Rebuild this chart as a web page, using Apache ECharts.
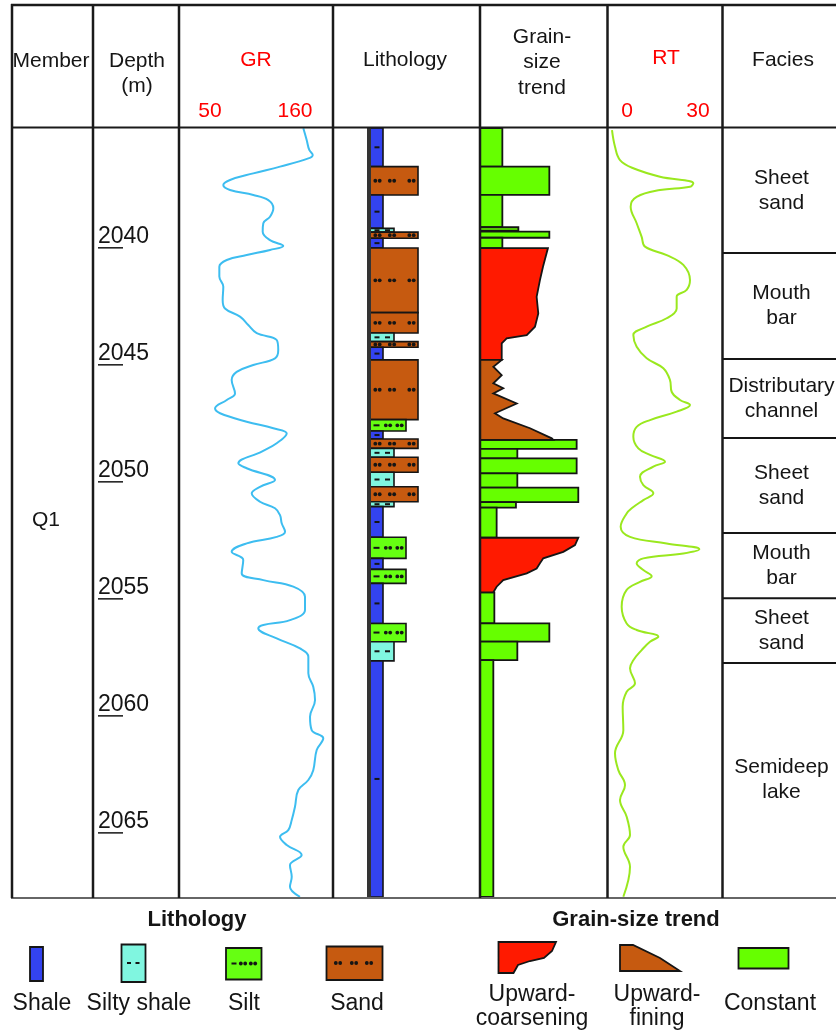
<!DOCTYPE html>
<html><head><meta charset="utf-8">
<script src="https://cdn.jsdelivr.net/npm/echarts@6/dist/echarts.min.js"></script>
<style>html,body{margin:0;padding:0;background:#fff}#c{width:836px;height:1030px}</style>
</head><body><div id="c"></div>
<script>
// ---------------- DATA ----------------
const depthRange = [2035.35, 2068.21];
const depthTicks = [2040, 2045, 2050, 2055, 2060, 2065];
const grScale = [50, 160];
const rtScale = [0, 30];

// GR curve [GR, depth]
const grCurve = [
[150.8,2035.36],[154.0,2035.86],[156.5,2036.29],[159.8,2036.50],[155.6,2036.65],[128.5,2037.00],
[102.9,2037.29],[80.6,2037.57],[74.2,2037.79],[80.6,2038.00],[102.9,2038.21],[117.3,2038.43],
[122.1,2038.78],[118.9,2039.14],[112.5,2039.42],[111.9,2039.78],[118.9,2040.14],[131.6,2040.39],
[118.9,2040.56],[96.6,2040.78],[77.5,2040.99],[70.4,2041.28],[70.4,2041.70],[74.2,2042.13],
[73.6,2042.70],[75.8,2043.06],[90.2,2043.41],[98.1,2043.77],[106.2,2044.12],[125.3,2044.41],
[126.8,2044.84],[123.7,2045.19],[102.9,2045.48],[87.0,2045.77],[82.2,2046.12],[85.4,2046.69],
[77.5,2046.97],[66.3,2047.33],[71.1,2047.54],[96.6,2047.90],[122.1,2048.18],[134.9,2048.40],
[125.3,2048.82],[111.0,2049.18],[88.6,2049.68],[96.6,2049.89],[123.7,2050.39],[109.3,2050.68],
[101.4,2050.96],[109.3,2051.32],[123.7,2051.60],[128.5,2051.89],[130.1,2052.24],[133.3,2052.60],
[125.3,2052.82],[96.6,2053.10],[82.2,2053.46],[93.3,2053.81],[91.8,2054.38],[112.5,2054.67],
[141.2,2054.95],[152.4,2055.38],[152.4,2055.95],[138.0,2056.38],[112.5,2056.59],[107.7,2056.73],
[125.3,2057.16],[147.6,2057.59],[155.6,2057.94],[155.6,2058.65],[160.3,2059.23],[162.0,2059.79],
[157.2,2060.51],[158.8,2061.08],[169.9,2061.43],[163.6,2061.93],[160.3,2062.79],[155.6,2063.21],
[146.0,2063.64],[142.8,2064.35],[139.7,2064.92],[136.4,2065.35],[128.5,2065.64],[134.9,2065.99],
[149.2,2066.42],[138.0,2066.85],[139.7,2067.35],[138.0,2067.77],[147.6,2068.20]
];

// RT curve [RT, depth]
const rtCurve = [
[0.0,2035.44],[0.9,2036.15],[2.4,2036.72],[6.4,2037.07],[14.4,2037.43],[24.4,2037.71],
[23.4,2037.86],[14.4,2038.00],[7.4,2038.29],[5.6,2038.71],[7.4,2039.42],[8.9,2040.00],
[9.9,2040.42],[16.4,2040.78],[21.4,2041.20],[23.4,2041.85],[22.4,2042.27],[19.4,2042.56],
[19.4,2043.06],[16.4,2043.48],[10.4,2043.84],[6.4,2044.20],[7.4,2044.70],[10.4,2045.19],
[15.4,2045.62],[17.4,2046.12],[17.9,2046.62],[20.4,2046.97],[23.4,2047.19],[19.4,2047.47],
[11.4,2047.83],[7.4,2048.12],[6.4,2048.54],[7.9,2049.04],[11.4,2049.32],[15.9,2049.61],
[12.4,2049.82],[8.4,2050.25],[9.4,2050.61],[12.4,2050.96],[9.4,2051.25],[5.9,2051.60],
[4.4,2051.82],[2.6,2052.39],[5.4,2052.82],[16.4,2053.10],[26.2,2053.35],[21.4,2053.53],
[9.4,2053.74],[7.4,2053.95],[9.4,2054.24],[11.9,2054.50],[8.4,2054.74],[4.4,2055.09],
[2.9,2055.81],[4.4,2056.52],[7.4,2056.80],[13.9,2057.09],[11.4,2057.30],[8.9,2057.66],
[6.4,2058.09],[5.4,2058.44],[6.9,2059.08],[4.4,2059.44],[3.2,2060.08],[3.4,2061.08],
[0.9,2062.07],[1.9,2062.79],[3.9,2063.43],[2.4,2064.07],[4.4,2064.78],[5.4,2065.56],
[3.4,2066.06],[5.4,2066.92],[3.4,2068.20]
];

// Lithology [top, bottom, type]
const lithology = [
[2035.35,2037.00,'shale'],[2037.00,2038.21,'sand'],[2038.21,2039.64,'shale'],
[2039.64,2039.80,'siltyShale'],[2039.80,2040.06,'sand'],[2040.06,2040.48,'shale'],
[2040.48,2043.24,'sand'],[2043.24,2044.11,'sand'],[2044.11,2044.48,'siltyShale'],
[2044.48,2044.72,'sand'],[2044.72,2045.26,'shale'],[2045.26,2047.81,'sand'],
[2047.81,2048.30,'silt'],[2048.30,2048.64,'shale'],[2048.64,2049.04,'sand'],
[2049.04,2049.42,'siltyShale'],[2049.42,2050.06,'sand'],[2050.06,2050.68,'siltyShale'],
[2050.68,2051.32,'sand'],[2051.32,2051.53,'siltyShale'],[2051.53,2052.84,'shale'],
[2052.84,2053.74,'silt'],[2053.74,2054.21,'shale'],[2054.21,2054.81,'silt'],
[2054.81,2056.52,'shale'],[2056.52,2057.30,'silt'],[2057.30,2058.12,'siltyShale'],
[2058.12,2068.21,'shale']
];
const lithGrade = {shale:1.2, siltyShale:2.08, silt:3.04, sand:4.0};

// Grain-size trend: constant intervals [top, bottom, relative grain size]
const grainConstant = [
[2035.35,2037.00,1.76],[2037.00,2038.21,5.46],[2038.21,2039.59,1.76],[2039.59,2039.74,3.02],
[2039.78,2040.04,5.46],[2040.04,2040.48,1.76],
[2048.68,2049.06,7.61],[2049.06,2049.47,2.94],[2049.47,2050.11,7.61],[2050.11,2050.72,2.94],
[2050.72,2051.34,7.74],[2051.34,2051.57,2.83],[2051.57,2052.86,1.31],
[2055.19,2056.52,1.13],[2056.52,2057.30,5.46],[2057.30,2058.09,2.94],[2058.09,2068.21,1.05]
];
// Upward-coarsening / fining outlines [relative grain size, depth]
const coarsening1 = [
[5.35,2040.48],[4.96,2041.28],[4.72,2041.85],[4.46,2042.56],[4.59,2043.27],[4.33,2043.84],
[3.68,2044.20],[2.10,2044.34],[1.71,2044.55],[1.71,2045.26]
];
const fining1 = [
[1.71,2045.26],[1.05,2045.55],[1.71,2045.91],[1.05,2046.26],[1.83,2046.47],[1.05,2046.69],
[2.89,2047.12],[1.18,2047.54],[1.83,2047.76],[3.94,2048.18],[5.65,2048.61],[5.77,2048.68]
];
const coarsening2 = [
[7.74,2052.86],[7.48,2053.17],[6.56,2053.46],[4.98,2053.74],[4.72,2053.95],[4.46,2054.17],
[3.68,2054.38],[1.83,2054.67],[1.31,2054.95],[1.05,2055.19]
];

// Facies [top, bottom, name]
const facies = [
[2035.35,2040.69,'Sheet\nsand'],[2040.69,2045.22,'Mouth\nbar'],[2045.22,2048.60,'Distributary\nchannel'],
[2048.60,2052.66,'Sheet\nsand'],[2052.66,2055.44,'Mouth\nbar'],[2055.44,2058.21,'Sheet\nsand'],
[2058.21,2068.21,'Semideep\nlake']
];
const memberName = 'Q1';

// ---------------- STYLE ----------------
const FONT = '"Liberation Sans", Arial, Helvetica, sans-serif';
const C = {shale:'#3343f0', siltyShale:'#80f6e0', silt:'#66ff12', sand:'#c65a10',
  red:'#ff1a00', brown:'#c65a10', green:'#66ff00', gr:'#3dbdf0', rt:'#9ae81e', ink:'#151515'};
const TOP = 128, H = 769;
const cols = {depth:[93,86], gr:[179,154], lith:[333,147], grain:[480,127], rt:[607.5,115.5], facies:[723,113]};
const colOrder = ['depth','gr','lith','grain','rt','facies'];
const grids = colOrder.map(k => ({left: cols[k][0], top: TOP, width: cols[k][1], height: H, show:false}));
const xr = {depth:[0,86], gr:[31.8,179.2], lith:[-2.8,8.96], grain:[0,10], rt:[-1.35,33.3], facies:[0,113]};
const xAxes = colOrder.map((k,i) => ({gridIndex:i, type:'value', min:xr[k][0], max:xr[k][1], show:false}));
const yAxes = colOrder.map((k,i) => ({gridIndex:i, type:'value', inverse:true, min:depthRange[0], max:depthRange[1], show:false}));
const G = k => colOrder.indexOf(k);

function dots(children, cx, cy){
  children.push({type:'circle', shape:{cx:cx-2.2, cy, r:1.9}, style:{fill:C.ink}});
  children.push({type:'circle', shape:{cx:cx+2.2, cy, r:1.9}, style:{fill:C.ink}});
}
function dash(children, cx, cy, w){
  children.push({type:'line', shape:{x1:cx-w/2, y1:cy, x2:cx+w/2, y2:cy}, style:{stroke:C.ink, lineWidth:2}});
}
function pattern(children, type, x0, cy, ht){
  if (type==='shale'){ if (ht>7) dash(children, x0+9, cy, 5); }
  else if (type==='siltyShale'){ dash(children, x0+9, cy, 5); dash(children, x0+19.5, cy, 5); }
  else if (type==='silt'){ dash(children, x0+8.5, cy, 6); dots(children, x0+20, cy); dots(children, x0+31.5, cy); }
  else if (type==='sand'){ dots(children, x0+9.5, cy); dots(children, x0+24, cy); dots(children, x0+43.5, cy); }
}

const series = [];
// depth labels
series.push({type:'custom', xAxisIndex:G('depth'), yAxisIndex:G('depth'), data: depthTicks.map(d=>[0,d]),
  renderItem(params, api){
    const d = depthTicks[params.dataIndex];
    const p = api.coord([5, d]);
    return {type:'group', children:[
      {type:'text', x:p[0], y:p[1], style:{text:String(d), font:'23px '+FONT, fill:C.ink, align:'left', verticalAlign:'middle'}},
      {type:'line', shape:{x1:p[0], y1:p[1]+11, x2:p[0]+25, y2:p[1]+11}, style:{stroke:C.ink, lineWidth:1.5}}
    ]};
  }});
// GR
series.push({type:'line', xAxisIndex:G('gr'), yAxisIndex:G('gr'), data: grCurve, smooth:0.4, symbol:'none',
  lineStyle:{color:C.gr, width:2}, clip:false});
// RT
series.push({type:'line', xAxisIndex:G('rt'), yAxisIndex:G('rt'), data: rtCurve, smooth:0.4, symbol:'none',
  lineStyle:{color:C.rt, width:2}, clip:false});
// Lithology strip
series.push({type:'custom', xAxisIndex:G('lith'), yAxisIndex:G('lith'), data:[[0, depthRange[0]]], z:3,
  renderItem(params, api){
    const a = api.coord([0, depthRange[0]]), b = api.coord([0, depthRange[1]]);
    return {type:'rect', shape:{x:a[0]-1, y:a[1], width:4, height:b[1]-a[1]}, style:{fill:'#333'}};
  }});
// Lithology blocks
series.push({type:'custom', xAxisIndex:G('lith'), yAxisIndex:G('lith'), data: lithology.map(b=>[0,b[0]]), z:2,
  renderItem(params, api){
    const b = lithology[params.dataIndex];
    const p0 = api.coord([0, b[0]]), p1 = api.coord([lithGrade[b[2]], b[1]]);
    const x = p0[0], y = p0[1], w = p1[0]-p0[0], h = p1[1]-p0[1];
    const ch = [{type:'rect', shape:{x, y, width:w, height:h}, style:{fill:C[b[2]], stroke:C.ink, lineWidth:1.6}}];
    pattern(ch, b[2], x, y+h/2, h);
    return {type:'group', children:ch};
  }});
// Grain constant
series.push({type:'custom', xAxisIndex:G('grain'), yAxisIndex:G('grain'), data: grainConstant.map(b=>[0,b[0]]),
  renderItem(params, api){
    const b = grainConstant[params.dataIndex];
    const p0 = api.coord([0, b[0]]), p1 = api.coord([b[2], b[1]]);
    return {type:'rect', shape:{x:p0[0], y:p0[1], width:p1[0]-p0[0], height:p1[1]-p0[1]},
      style:{fill:C.green, stroke:C.ink, lineWidth:1.8}};
  }});
// Grain trend polygons
const trendShapes = [{pts:coarsening1, color:C.red}, {pts:fining1, color:C.brown}, {pts:coarsening2, color:C.red}];
series.push({type:'custom', xAxisIndex:G('grain'), yAxisIndex:G('grain'), data: trendShapes.map(s=>[0,s.pts[0][1]]),
  renderItem(params, api){
    const s = trendShapes[params.dataIndex];
    const pts = [api.coord([0, s.pts[0][1]])];
    s.pts.forEach(p => pts.push(api.coord(p)));
    pts.push(api.coord([0, s.pts[s.pts.length-1][1]]));
    return {type:'polygon', shape:{points:pts}, style:{fill:s.color, stroke:C.ink, lineWidth:1.8}};
  }});
// Facies
series.push({type:'custom', xAxisIndex:G('facies'), yAxisIndex:G('facies'), data: facies.map(f=>[0,f[0]]),
  renderItem(params, api){
    const f = facies[params.dataIndex];
    const p0 = api.coord([0, f[0]]), p1 = api.coord([113, f[1]]);
    const ch = [{type:'text', x:(p0[0]+p1[0])/2+2, y:(p0[1]+p1[1])/2,
      style:{text:f[2], font:'21px '+FONT, fill:C.ink, align:'center', verticalAlign:'middle', lineHeight:25}}];
    if (params.dataIndex < facies.length-1)
      ch.push({type:'line', shape:{x1:p0[0], y1:p1[1], x2:p1[0], y2:p1[1]}, style:{stroke:C.ink, lineWidth:2}});
    return {type:'group', children:ch};
  }});

// ---------------- GRAPHIC (table frame, header, legend) ----------------
const g = [];
function txt(t, x, y, opt={}){
  g.push({type:'text', x, y, z:50, style:{text:t, font:(opt.bold?'bold ':'')+(opt.size||21)+'px '+FONT,
    fill:opt.color||C.ink, align:'center', verticalAlign:'middle', lineHeight:opt.lh||24}});
}
function hline(y, x1, x2, w, c){ g.push({type:'line', z:60, shape:{x1, y1:y, x2, y2:y}, style:{stroke:c||'#1a1a1a', lineWidth:w}}); }
function vline(x, y1, y2, w){ g.push({type:'line', z:60, shape:{x1:x, y1, x2:x, y2}, style:{stroke:'#1a1a1a', lineWidth:w}}); }
hline(5, 11, 836, 2.5); hline(127.5, 11, 836, 2.2); hline(898, 11, 836, 2, '#666');
[12, 93, 179, 333, 480, 607.5, 722.5].forEach(x => vline(x, 4, 898, 2.5));
txt('Member', 51, 61); txt('Depth', 137, 61); txt('(m)', 137, 86);
txt('GR', 256, 60, {color:'#ff0000'}); txt(String(grScale[0]), 210, 111, {color:'#ff0000'}); txt(String(grScale[1]), 295, 111, {color:'#ff0000'});
txt('Lithology', 405, 60);
txt('Grain-', 542, 37); txt('size', 542, 62); txt('trend', 542, 88);
txt('RT', 666, 58, {color:'#ff0000'}); txt(String(rtScale[0]), 627, 111, {color:'#ff0000'}); txt(String(rtScale[1]), 698, 111, {color:'#ff0000'});
txt('Facies', 783, 60);
txt(memberName, 46, 520);

// legend
txt('Lithology', 197, 920, {bold:true, size:22});
txt('Grain-size trend', 636, 920, {bold:true, size:22});
function lrect(x, y, w, h, fill){ g.push({type:'rect', z:50, shape:{x, y, width:w, height:h}, style:{fill, stroke:C.ink, lineWidth:1.8}}); }
lrect(30, 947, 13, 34, C.shale);
lrect(121.5, 944.5, 24, 37.5, C.siltyShale);
lrect(226, 948, 35.5, 31.5, C.silt);
lrect(326.5, 946.5, 56, 33.5, C.sand);
function ldash(cx, cy, w){ g.push({type:'line', z:51, shape:{x1:cx-w/2, y1:cy, x2:cx+w/2, y2:cy}, style:{stroke:C.ink, lineWidth:2}}); }
function ldots(cx, cy){ [cx-2.2, cx+2.2].forEach(x=>g.push({type:'circle', z:51, shape:{cx:x, cy, r:1.9}, style:{fill:C.ink}})); }
ldash(129, 963, 4); ldash(137.5, 963, 4);
ldash(234, 963.5, 5); ldots(243, 963.5); ldots(253, 963.5);
ldots(338, 963); ldots(354, 963); ldots(369, 963);
txt('Shale', 42, 1004, {size:23}); txt('Silty shale', 139, 1004, {size:23}); txt('Silt', 244, 1004, {size:23}); txt('Sand', 357, 1004, {size:23});
g.push({type:'polygon', z:50, shape:{points:[[498.5,942],[556,942],[552,951],[544,958],[530,961],[518,965],[513.5,973],[498.5,973]]},
  style:{fill:C.red, stroke:C.ink, lineWidth:1.8}});
g.push({type:'polygon', z:50, shape:{points:[[620,945],[633,945],[660,958],[680,971],[620,971]]},
  style:{fill:C.brown, stroke:C.ink, lineWidth:1.8}});
lrect(738.5, 948, 50, 20.5, C.green);
txt('Upward-', 532, 995, {size:23}); txt('coarsening', 532, 1019, {size:23});
txt('Upward-', 657, 995, {size:23}); txt('fining', 657, 1019, {size:23});
txt('Constant', 770, 1004, {size:23});

const chart = echarts.init(document.getElementById('c'), null, {renderer:'canvas'});
chart.setOption({animation:false, backgroundColor:'#fff', grid:grids, xAxis:xAxes, yAxis:yAxes, series, graphic:g});
</script></body></html>
